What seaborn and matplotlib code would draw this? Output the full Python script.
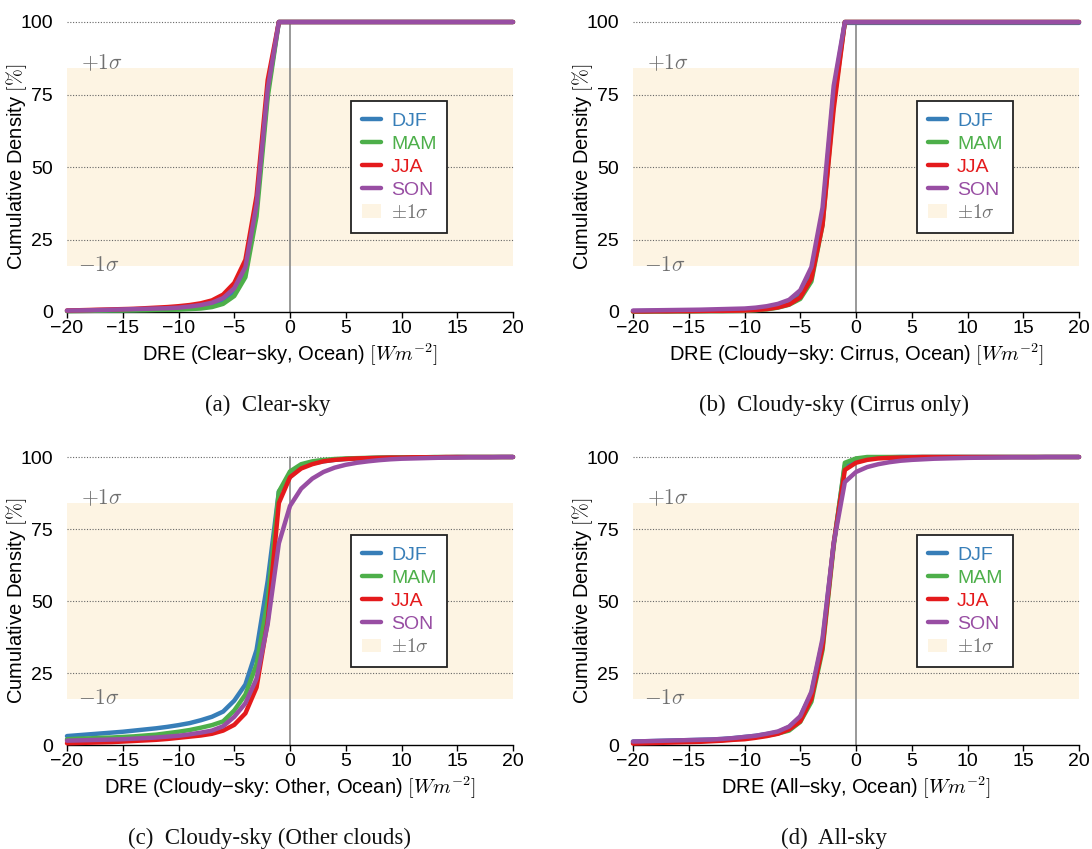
import numpy as np
import pandas as pd
import matplotlib
matplotlib.use("Agg")
import matplotlib.pyplot as plt
import seaborn as sns
from matplotlib.patches import Patch
from matplotlib.lines import Line2D

sns.set_theme(style="white")
plt.rcParams['font.family'] = ['Liberation Sans', 'DejaVu Sans']
plt.rcParams['mathtext.fontset'] = 'cm'

# ---------------- data ----------------
dre = list(range(-20, 21))
seasons = ["DJF", "MAM", "JJA", "SON"]
season_colors = ["#377eb8", "#4daf4a", "#e41a1c", "#984ea3"]

# Panel (a) Clear-sky
clear_djf = [0.4, 0.45, 0.5, 0.55, 0.6, 0.65, 0.7, 0.8, 0.9, 1.0, 1.2, 1.4, 1.7, 2.2, 3.5, 7.0, 14.0, 36.0, 76.0, 100, 100,
             100, 100, 100, 100, 100, 100, 100, 100, 100, 100, 100, 100, 100, 100, 100, 100, 100, 100, 100, 100]
clear_mam = [0.3, 0.35, 0.4, 0.45, 0.5, 0.5, 0.55, 0.6, 0.7, 0.75, 0.8, 1.0, 1.2, 1.7, 2.8, 5.5, 12.0, 33.0, 74.0, 100, 100,
             100, 100, 100, 100, 100, 100, 100, 100, 100, 100, 100, 100, 100, 100, 100, 100, 100, 100, 100, 100]
clear_jja = [0.5, 0.6, 0.7, 0.8, 0.9, 1.0, 1.1, 1.3, 1.5, 1.7, 2.0, 2.4, 3.0, 4.0, 6.0, 10.0, 18.0, 40.0, 80.0, 100, 100,
             100, 100, 100, 100, 100, 100, 100, 100, 100, 100, 100, 100, 100, 100, 100, 100, 100, 100, 100, 100]
clear_son = [0.5, 0.55, 0.6, 0.7, 0.8, 0.9, 1.0, 1.1, 1.2, 1.3, 1.5, 1.9, 2.4, 3.2, 4.8, 8.2, 15.5, 37.0, 77.0, 100, 100,
             100, 100, 100, 100, 100, 100, 100, 100, 100, 100, 100, 100, 100, 100, 100, 100, 100, 100, 100, 100]

# Panel (b) Cloudy-sky, cirrus only
cirrus_djf = [0.3, 0.35, 0.4, 0.4, 0.45, 0.5, 0.55, 0.6, 0.65, 0.7, 0.8, 1.1, 1.5, 2.2, 3.2, 6.0, 13.0, 33.0, 76.0, 99.7, 99.7,
              99.7, 99.7, 99.7, 99.7, 99.7, 99.7, 99.7, 99.7, 99.7, 99.7, 99.7, 99.7, 99.7, 99.7, 99.7, 99.7, 99.7, 99.7, 99.7, 99.7]
cirrus_mam = [0.1, 0.1, 0.15, 0.15, 0.2, 0.2, 0.25, 0.3, 0.3, 0.35, 0.4, 0.6, 0.9, 1.5, 2.5, 4.5, 10.5, 30.0, 72.0, 100, 100,
              100, 100, 100, 100, 100, 100, 100, 100, 100, 100, 100, 100, 100, 100, 100, 100, 100, 100, 100, 100]
cirrus_jja = [0.2, 0.2, 0.25, 0.25, 0.3, 0.3, 0.35, 0.4, 0.4, 0.45, 0.5, 0.7, 1.0, 1.6, 2.6, 5.0, 11.5, 30.0, 70.0, 100, 100,
              100, 100, 100, 100, 100, 100, 100, 100, 100, 100, 100, 100, 100, 100, 100, 100, 100, 100, 100, 100]
cirrus_son = [0.5, 0.55, 0.6, 0.65, 0.7, 0.75, 0.8, 0.9, 1.0, 1.1, 1.2, 1.5, 2.0, 2.8, 4.2, 7.5, 15.5, 36.0, 78.0, 100, 100,
              100, 100, 100, 100, 100, 100, 100, 100, 100, 100, 100, 100, 100, 100, 100, 100, 100, 100, 100, 100]

# Panel (c) Cloudy-sky, other clouds
other_djf = [3.1, 3.4, 3.7, 4.0, 4.3, 4.6, 5.0, 5.4, 5.8, 6.3, 6.9, 7.6, 8.6, 9.8, 11.6, 15.4, 21.0, 33.0, 57.0, 88.0, 93.0,
             96.5, 97.8, 98.5, 99.0, 99.3, 99.5, 99.6, 99.7, 99.8, 99.8, 99.9, 99.9, 99.9, 99.9, 100, 100, 100, 100, 100, 100]
other_mam = [2.0, 2.2, 2.3, 2.5, 2.6, 2.8, 3.0, 3.3, 3.6, 4.1, 4.6, 5.2, 6.0, 6.9, 8.2, 12.0, 17.5, 28.0, 50.0, 88.0, 95.0,
             97.5, 98.5, 99.0, 99.3, 99.5, 99.6, 99.7, 99.8, 99.8, 99.9, 99.9, 99.9, 100, 100, 100, 100, 100, 100, 100, 100]
other_jja = [0.6, 0.7, 0.8, 0.9, 1.0, 1.2, 1.4, 1.6, 1.8, 2.1, 2.5, 2.9, 3.3, 3.9, 5.0, 7.0, 11.0, 20.0, 43.0, 84.0, 93.0,
             96.0, 97.5, 98.5, 99.0, 99.3, 99.5, 99.6, 99.7, 99.8, 99.8, 99.9, 99.9, 99.9, 100, 100, 100, 100, 100, 100, 100]
other_son = [1.5, 1.6, 1.7, 1.8, 1.9, 2.0, 2.2, 2.4, 2.6, 2.9, 3.2, 3.7, 4.3, 5.0, 6.5, 9.8, 14.5, 23.0, 42.0, 70.0, 83.0,
             89.0, 92.5, 94.8, 96.3, 97.3, 98.0, 98.5, 98.9, 99.2, 99.4, 99.5, 99.6, 99.7, 99.8, 99.8, 99.9, 99.9, 99.9, 100, 100]

# Panel (d) All-sky
all_djf = [1.2, 1.3, 1.4, 1.5, 1.6, 1.7, 1.8, 1.9, 2.1, 2.4, 2.8, 3.2, 3.8, 4.5, 6.2, 9.8, 18.0, 36.0, 70.0, 97.0, 99.0,
           99.6, 99.8, 99.9, 100, 100, 100, 100, 100, 100, 100, 100, 100, 100, 100, 100, 100, 100, 100, 100, 100]
all_mam = [0.8, 0.9, 1.0, 1.1, 1.2, 1.3, 1.4, 1.5, 1.7, 2.0, 2.4, 2.8, 3.3, 4.0, 5.0, 8.0, 15.0, 33.0, 69.0, 98.0, 99.5,
           100, 100, 100, 100, 100, 100, 100, 100, 100, 100, 100, 100, 100, 100, 100, 100, 100, 100, 100, 100]
all_jja = [0.5, 0.6, 0.7, 0.8, 0.9, 1.0, 1.1, 1.3, 1.5, 1.8, 2.0, 2.5, 3.1, 3.9, 5.4, 8.2, 16.0, 34.0, 70.0, 95.5, 98.0,
           99.0, 99.5, 99.7, 99.8, 99.9, 100, 100, 100, 100, 100, 100, 100, 100, 100, 100, 100, 100, 100, 100, 100]
all_son = [1.2, 1.3, 1.4, 1.5, 1.6, 1.7, 1.8, 1.9, 2.1, 2.4, 2.8, 3.2, 3.9, 4.7, 6.4, 10.0, 18.5, 37.0, 70.0, 91.3, 94.8,
           96.5, 97.5, 98.2, 98.7, 99.0, 99.2, 99.4, 99.5, 99.6, 99.7, 99.75, 99.8, 99.85, 99.9, 99.9, 99.9, 100, 100, 100, 100]

panels = [
    ("DRE (Clear\u2212sky, Ocean) $[Wm^{-2}]$", "(a)  Clear-sky", [clear_djf, clear_mam, clear_jja, clear_son]),
    ("DRE (Cloudy\u2212sky: Cirrus, Ocean) $[Wm^{-2}]$", "(b)  Cloudy-sky (Cirrus only)", [cirrus_djf, cirrus_mam, cirrus_jja, cirrus_son]),
    ("DRE (Cloudy\u2212sky: Other, Ocean) $[Wm^{-2}]$", "(c)  Cloudy-sky (Other clouds)", [other_djf, other_mam, other_jja, other_son]),
    ("DRE (All\u2212sky, Ocean) $[Wm^{-2}]$", "(d)  All-sky", [all_djf, all_mam, all_jja, all_son]),
]

sigma_lo, sigma_hi = 15.87, 84.13
band_color = "#fdf4e3"
x_ticks = [-20, -15, -10, -5, 0, 5, 10, 15, 20]
y_ticks = [0, 25, 50, 75, 100]

# ---------------- layout (pixels) ----------------
W, H = 1092, 849
fig = plt.figure(figsize=(W / 100, H / 100), dpi=100)
rects_px = [(67, 22, 446, 290), (633, 22, 446, 290), (67, 457, 446, 288), (633, 457, 446, 288)]
caption_px = [(268, 405), (834, 405), (270, 838), (834, 838)]

for (xlabel, caption, series), (lx, ty, w, h), (cx, cy) in zip(panels, rects_px, caption_px):
    ax = fig.add_axes([lx / W, 1 - (ty + h) / H, w / W, h / H])
    ax.set_xlim(-20, 20)
    ax.set_ylim(0, 100)
    ax.axhspan(sigma_lo, sigma_hi, color=band_color, lw=0, zorder=0)
    for yt in [25, 50, 75, 100]:
        ax.axhline(yt, color="#666666", lw=0.8, ls=(0, (1, 1.5)), zorder=1)
    ax.axvline(0, color="#888888", lw=1.2, zorder=1)

    df = pd.DataFrame({"DRE": dre * 4,
                       "CDF": sum(series, []),
                       "Season": sum([[s] * len(dre) for s in seasons], [])})
    sns.lineplot(data=df, x="DRE", y="CDF", hue="Season", palette=season_colors,
                 hue_order=seasons, lw=3.2, ax=ax, legend=False, zorder=3)
    for ln in ax.lines:
        ln.set_clip_on(False)

    ax.text(-18.7, 85.6, r"$+1\sigma$", color="#707070", fontsize=15.5, va="center", ha="left")
    ax.text(-19.0, 16.0, r"$-1\sigma$", color="#707070", fontsize=15.5, va="center", ha="left")

    handles = [Line2D([], [], color=c, lw=3.2) for c in season_colors]
    handles.append(Patch(facecolor=band_color, edgecolor="none"))
    labels = seasons + [r"$\pm1\sigma$"]
    leg = ax.legend(handles, labels, loc="center", bbox_to_anchor=(0.745, 0.5),
                    fontsize=14, handlelength=1.0, handletextpad=0.5, labelspacing=0.28,
                    borderpad=0.55, fancybox=False, framealpha=1, edgecolor="#222222")
    leg.get_frame().set_linewidth(1.3)
    for t, c in zip(leg.get_texts(), season_colors + ["#707070"]):
        t.set_color(c)

    sns.despine(ax=ax, left=True, top=True, right=True)
    ax.spines["bottom"].set_color("black")
    ax.spines["bottom"].set_linewidth(1.0)
    ax.set_xticks(x_ticks)
    ax.set_xticklabels([str(v).replace("-", "\u2212") for v in x_ticks])
    ax.set_yticks(y_ticks)
    ax.tick_params(axis="x", bottom=True, direction="out", length=4, width=1, color="black",
                   labelsize=14, pad=2, labelcolor="black")
    ax.tick_params(axis="y", left=False, labelsize=14, pad=4, labelcolor="black")
    ax.grid(False)
    ax.set_xlabel(xlabel, fontsize=14.5, labelpad=3, color="black")
    ax.set_ylabel(r"Cumulative Density $[\%]$", fontsize=14.5, color="black")
    ax.yaxis.set_label_coords(-0.086, 0.5)

    fig.text(cx / W, 1 - cy / H, caption, ha="center", va="center", fontsize=16.5,
             family=["Liberation Serif", "DejaVu Serif"], color="#111111")

fig.savefig("out.png", dpi=100)
